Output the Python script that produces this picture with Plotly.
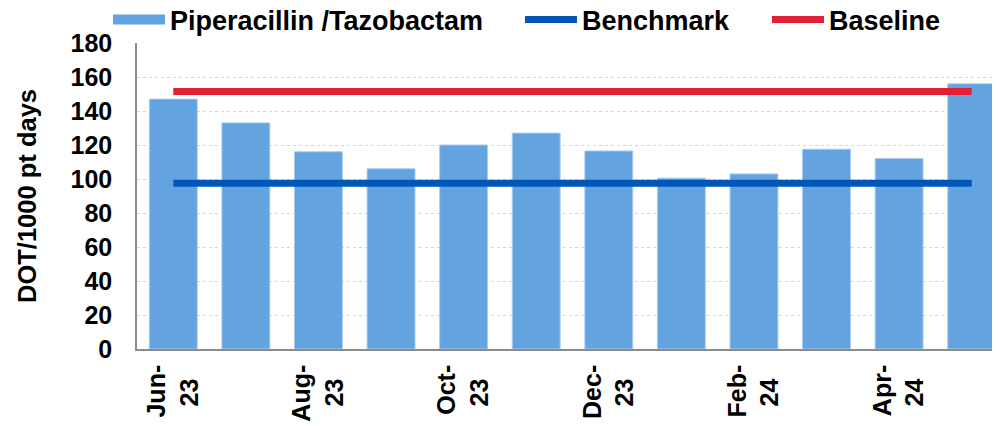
import plotly.graph_objects as go

months = ["Jun-23", "Jul-23", "Aug-23", "Sep-23", "Oct-23", "Nov-23",
          "Dec-23", "Jan-24", "Feb-24", "Mar-24", "Apr-24", "May-24"]
pip_tazo = [147, 133, 116, 106, 120, 127, 116.5, 100.5, 103, 117.5, 112, 156]
benchmark = [97.5, 97.5, 97.5, 97.5, 97.5, 97.5, 97.5, 97.5, 97.5, 97.5, 97.5, 97.5]
baseline = [151.5, 151.5, 151.5, 151.5, 151.5, 151.5, 151.5, 151.5, 151.5, 151.5, 151.5, 151.5]
tick_vals = ["Jun-23", "Aug-23", "Oct-23", "Dec-23", "Feb-24", "Apr-24"]
tick_text = ["Jun-<br>23\u00a0\u00a0", "Aug-<br>23\u00a0\u00a0", "Oct-<br>23\u00a0\u00a0",
             "Dec-<br>23\u00a0\u00a0", "Feb-<br>24\u00a0\u00a0", "Apr-<br>24\u00a0\u00a0"]
y_ticks = [0, 20, 40, 60, 80, 100, 120, 140, 160, 180]

BAR = "#62A3E0"
BLUE = "#0057B8"
RED = "#E31E37"
FONT = "Liberation Sans"

# the page body has an 8px margin, so the figure is 8px smaller than the window
W, H = 992, 418

fig = go.Figure()
fig.add_trace(go.Bar(x=months, y=pip_tazo, name="Piperacillin /Tazobactam",
                     marker=dict(color=BAR, line=dict(color="#A9CCEF", width=1)),
                     showlegend=False))
fig.add_trace(go.Scatter(x=months, y=benchmark, mode="lines", name="Benchmark",
                         line=dict(color=BLUE, width=7), legend="legend2"))
fig.add_trace(go.Scatter(x=months, y=baseline, mode="lines", name="Baseline",
                         line=dict(color=RED, width=7), legend="legend3"))
# legend entry for the bar series (wide swatch as in the original)
fig.add_trace(go.Scatter(x=[None], y=[None], mode="lines", name="Piperacillin /Tazobactam",
                         line=dict(color=BAR, width=14), legend="legend"))

leg_common = dict(orientation="h", xref="container", yref="container",
                  yanchor="middle", xanchor="left", itemwidth=52,
                  font=dict(family=FONT, size=27, color="black", weight="bold"),
                  bgcolor="rgba(0,0,0,0)", tracegroupgap=0)

fig.update_layout(
    width=W, height=H,
    margin=dict(l=129, r=0, t=35, b=77, autoexpand=False),
    paper_bgcolor="white", plot_bgcolor="white",
    bargap=0.34,
    font=dict(family=FONT, size=25, color="black", weight="bold"),
    legend=dict(x=100 / W, y=1 - 12 / H, **leg_common),
    legend2=dict(x=512 / W, y=1 - 12 / H, **leg_common),
    legend3=dict(x=759 / W, y=1 - 12 / H, **leg_common),
    xaxis=dict(type="category", categoryorder="array", categoryarray=months,
               range=[-0.5, 11.39], tickmode="array", tickvals=tick_vals,
               ticktext=tick_text, tickangle=-90, showgrid=False,
               showline=True, linecolor="#8C8C8C", linewidth=1.5,
               ticks="", ticklabelstandoff=4, automargin=False,
               tickfont=dict(family=FONT, size=25, color="black", weight="bold")),
    yaxis=dict(range=[0, 180], tickmode="array", tickvals=y_ticks,
               showgrid=True, gridcolor="#D4D4D4", griddash="dot", gridwidth=1,
               showline=True, linecolor="#8C8C8C", linewidth=1.5,
               zeroline=False, ticks="", ticklabelstandoff=18, automargin=False,
               tickfont=dict(family=FONT, size=25, color="black", weight="bold"),
               title=dict(text="DOT/1000 pt days", standoff=27,
                          font=dict(family=FONT, size=25.5, color="black", weight="bold"))),
)

fig.write_html("out.html")
